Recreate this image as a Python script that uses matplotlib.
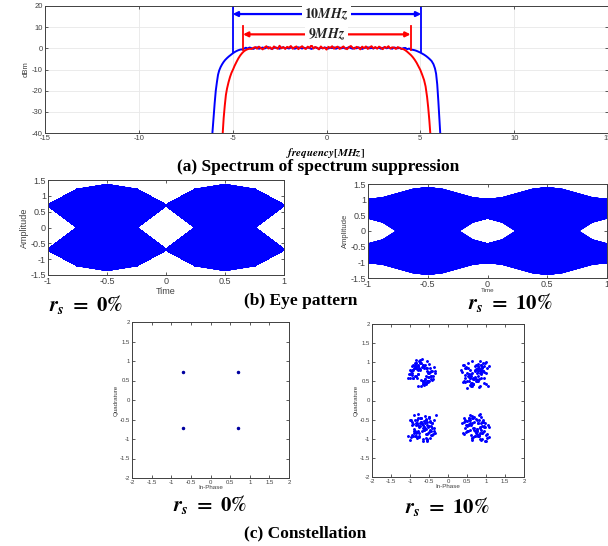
import numpy as np
import matplotlib
matplotlib.use('Agg')
import matplotlib.pyplot as plt
from matplotlib.ticker import FormatStrFormatter
from matplotlib.collections import LineCollection

plt.rcParams['font.family'] = ['Liberation Sans', 'DejaVu Sans']
plt.rcParams['mathtext.fontset'] = 'stix'

# ---------------- (a) spectrum ----------------
# roll-off edges (MHz, dBm)
blue_left_f = [-6.08, -6.02, -5.96, -5.9, -5.84, -5.78, -5.72, -5.64, -5.56, -5.48,
               -5.4, -5.3, -5.2, -5.1, -5.0, -4.9, -4.8, -4.7, -4.6]
blue_left_db = [-40, -33, -26, -20, -16, -12.5, -10.5, -8.8, -7.5, -6.4,
                -5.5, -4.6, -3.8, -3.1, -2.4, -1.8, -1.3, -0.9, -0.6]
blue_right_f = [4.6, 4.7, 4.8, 4.9, 5.0, 5.1, 5.2, 5.3, 5.4, 5.5, 5.6, 5.7,
                5.78, 5.84, 5.9, 5.96, 6.02, 6.06]
blue_right_db = [-0.7, -0.9, -1.2, -1.6, -2.0, -2.5, -3.0, -3.6, -4.3, -5.1, -6.0, -7.5,
                 -9.5, -12, -17, -25, -34, -40]
# flat part, -4.5 .. 4.5 MHz every 0.1 MHz
blue_mid = [-0.5, -0.2, 0.3, -0.1, 0.4, 0.1, -0.3, 0.2, 0.5, -0.2,
            0.1, 0.4, -0.1, 0.3, 0.6, 0.0, -0.3, 0.2, 0.4, 0.1,
            -0.2, 0.3, 0.5, 0.0, 0.2, -0.1, 0.4, 0.3, -0.2, 0.1,
            0.5, 0.2, -0.1, 0.3, 0.0, 0.4, 0.1, -0.3, 0.2, 0.5,
            0.1, -0.2, 0.3, 0.0, 0.4, 0.2, -0.1, 0.3, 0.1, 0.5,
            -0.2, 0.2, 0.4, 0.0, 0.3, -0.1, 0.2, 0.5, 0.1, -0.2,
            0.3, 0.0, 0.4, 0.2, -0.3, 0.1, 0.3, 0.5, 0.0, 0.2,
            -0.1, 0.4, 0.1, 0.3, -0.2, 0.2, 0.5, 0.0, 0.3, 0.1,
            -0.2, 0.4, 0.2, 0.0, 0.3, -0.3, 0.1, 0.2, -0.4, -0.1, -0.6]

red_left_f = [-5.53, -5.48, -5.42, -5.36, -5.3, -5.22, -5.14, -5.06, -4.98, -4.9,
              -4.8, -4.7, -4.6, -4.5, -4.4, -4.3, -4.2, -4.1]
red_left_db = [-40, -33, -27, -22, -19, -16, -13.5, -11.5, -10, -8.3,
               -6.5, -4.8, -3.4, -2.3, -1.4, -0.8, -0.4, -0.2]
red_right_f = [4.1, 4.2, 4.3, 4.4, 4.5, 4.6, 4.7, 4.8, 4.9, 5.0, 5.1, 5.2,
               5.28, 5.36, 5.42, 5.48, 5.53]
red_right_db = [-0.4, -0.9, -1.6, -2.4, -3.2, -4.2, -5.4, -6.8, -8.5, -10.2, -12.5, -15,
                -18, -23, -28, -34, -40]
# flat part, -4.0 .. 4.0 MHz every 0.1 MHz
red_mid = [-0.3, 0.2, 0.6, -0.2, 0.8, 0.1, -0.5, 0.4, 1.0, -0.1,
           0.5, -0.4, 0.9, 0.2, -0.2, 1.2, 0.0, 0.6, -0.3, 0.7,
           0.3, 1.1, -0.2, 0.5, 0.9, -0.4, 0.4, 1.0, 0.1, -0.3,
           0.8, 0.2, 1.5, -0.1, 0.6, 0.3, -0.5, 0.9, 0.0, 0.4,
           -0.6, 0.7, 0.2, 1.0, -0.2, 0.5, 0.8, -0.3, 0.3, 0.9,
           0.0, -0.4, 0.6, 1.1, 0.2, -0.2, 0.7, 0.4, -0.5, 0.8,
           0.1, 0.9, -0.3, 0.5, 1.0, 0.0, 0.6, -0.2, 0.8, 0.3,
           -0.4, 0.7, 0.2, 1.0, -0.1, 0.5, 0.3, -0.3, 0.6, 0.1,
           -0.2]

bw10_edges = [-5.0, 5.05]      # 10 MHz marker lines
bw9_edges = [-4.45, 4.48]      # 9 MHz marker lines

# ---------------- (b) eye patterns ----------------
# r_s = 0 %: one symbol period sampled at quarter points
eye0_sym = 0.7
eye0_peak = [0.5, 0.55, 0.6, 0.65, 0.7, 0.75, 0.8, 0.85, 0.9, 0.95,
             1.0, 1.05, 1.1, 1.15, 1.2, 1.25, 1.3, 1.35]
eye0_shoulder = [0.3, 0.36, 0.42, 0.48, 0.54, 0.6, 0.66, 0.72,
                 0.78, 0.84, 0.9, 0.96, 1.02, 1.08, 1.14, 1.2]
eye0_cross = [-0.7, -0.65, -0.6, -0.55, -0.5, -0.45, -0.4, -0.35, -0.3, -0.25,
              -0.2, -0.15, -0.1, -0.05, 0.0, 0.05, 0.1, 0.15, 0.2, 0.25,
              0.3, 0.35, 0.4, 0.45, 0.5, 0.55, 0.6, 0.65, 0.7]
eye0_lean = [0.0, 0.06, 0.12, 0.18, 0.25]

# r_s = 10 %: symbol levels, same-sign peaks, crossing values, transition shape
eye10_sym = [0.42, 0.48, 0.54, 0.6, 0.66, 0.72, 0.78, 0.85, 0.92, 1.0]
eye10_peak = [0.5, 0.56, 0.62, 0.68, 0.74, 0.8, 0.86, 0.92, 0.98,
              1.04, 1.1, 1.16, 1.22, 1.3, 1.38]
eye10_cross = [-0.45, -0.4, -0.35, -0.3, -0.25, -0.2, -0.15, -0.1, -0.05, 0.0,
               0.05, 0.1, 0.15, 0.2, 0.25, 0.3, 0.35, 0.4, 0.45]
eye10_shape = [0.0, 0.15, 0.5, 0.85, 1.0]

# ---------------- (c) constellations ----------------
qpsk_i = [-0.707, 0.707, -0.707, 0.707]
qpsk_q = [0.707, 0.707, -0.707, -0.707]
clu_i = [-0.7, 0.7, -0.68, 0.72]
clu_q = [0.72, 0.68, -0.72, -0.72]
noise_i = [0.06, -0.15, 0.23, -0.04, 0.29, -0.26, 0.11, -0.1, 0.18, -0.21,
           0.03, 0.35, -0.33, 0.14, -0.06, 0.09, -0.18, 0.25, -0.13, 0.0,
           0.17, -0.29, 0.05, 0.21, -0.09, 0.32, -0.24, 0.1, -0.03, 0.13,
           -0.16, 0.27, -0.36, 0.04, 0.2, -0.12, 0.08, -0.2, 0.16, -0.05,
           0.24, -0.26, 0.01, 0.12, -0.14, 0.31, -0.08, 0.18, -0.22, 0.07,
           -0.01, 0.14, -0.3, 0.22, -0.1, 0.03, 0.26, -0.17, 0.09, -0.25,
           0.13, -0.04, 0.2, -0.13, 0.37, -0.21, 0.05, -0.08, 0.16, -0.31,
           0.1, 0.0, -0.18, 0.25, -0.07, 0.17, -0.27, 0.08, -0.12, 0.21,
           -0.03, 0.3, -0.14, 0.04, -0.22, 0.12, 0.18, -0.09, 0.01, -0.16]
noise_q = [0.13, -0.07, 0.03, 0.26, -0.18, 0.09, -0.29, 0.17, -0.1, 0.21,
           -0.24, 0.05, -0.03, 0.31, 0.12, -0.16, 0.2, -0.08, 0.27, -0.35,
           0.01, -0.13, 0.22, -0.2, 0.08, 0.16, -0.05, -0.25, 0.34, -0.09,
           0.18, 0.04, -0.12, -0.3, 0.24, 0.1, -0.21, 0.14, 0.06, 0.29,
           -0.17, -0.01, 0.36, -0.26, 0.16, -0.08, 0.21, 0.03, -0.14, -0.31,
           0.25, -0.2, 0.09, 0.13, -0.04, -0.22, 0.05, 0.26, -0.16, 0.17,
           -0.27, 0.08, -0.1, 0.33, 0.0, -0.13, 0.2, -0.34, 0.12, -0.03,
           0.22, -0.18, 0.14, -0.07, 0.3, -0.24, 0.04, 0.18, -0.12, 0.01,
           0.1, -0.16, 0.25, -0.29, 0.07, 0.13, -0.21, -0.04, 0.16, -0.09]

AX_COL = '#404040'
BLUE = '#0000ff'


def matlab_style(ax, size, ticklen=2.5):
    for sp in ax.spines.values():
        sp.set_color(AX_COL)
        sp.set_linewidth(0.7)
    ax.tick_params(direction='in', top=True, right=True, length=ticklen, width=0.6,
                   labelsize=size, colors=AX_COL, pad=1.5)
    ax.xaxis.set_major_formatter(FormatStrFormatter('%g'))
    ax.yaxis.set_major_formatter(FormatStrFormatter('%g'))


W, H = 608, 546
fig = plt.figure(figsize=(W / 100, H / 100), dpi=100)


def px_axes(x0, y0, x1, y1):
    return fig.add_axes([x0 / W, 1 - y1 / H, (x1 - x0) / W, (y1 - y0) / H])


def px_text(x, y, s, **kw):
    fig.text(x / W, 1 - y / H, s, ha='center', va='center', **kw)


def draw_eye(ax, segs, lw):
    # each segment spans one symbol; draw it in both halves of the window
    n = len(segs[0])
    lines = []
    for t in (np.linspace(-1, 0, n), np.linspace(0, 1, n)):
        lines += [np.column_stack([t, s]) for s in segs]
    ax.add_collection(LineCollection(lines, colors=BLUE, linewidths=lw))
    ax.set_xlim(-1, 1)
    ax.set_ylim(-1.5, 1.5)
    ax.set_xticks([-1, -0.5, 0, 0.5, 1])
    ax.set_yticks(np.arange(-1.5, 1.6, 0.5))


# ---- spectrum ----
ax = px_axes(45, 6, 608, 133)
mid_b = np.round(np.arange(-4.5, 4.55, 0.1), 2)
mid_r = np.round(np.arange(-4.0, 4.05, 0.1), 2)
ax.plot(blue_left_f + list(mid_b) + blue_right_f, blue_left_db + blue_mid + blue_right_db,
        color=BLUE, lw=1.4)
ax.plot(red_left_f + list(mid_r) + red_right_f, red_left_db + red_mid + red_right_db,
        color='#ff0000', lw=1.4)
for f in bw10_edges:
    ax.plot([f, f], [-1.8, 20], color=BLUE, lw=1.3)
for f in bw9_edges:
    ax.plot([f, f], [-0.8, 10.5], color='#ff0000', lw=1.3)
ax.annotate('', xy=(bw10_edges[1], 16.2), xytext=(bw10_edges[0], 16.2),
            arrowprops=dict(arrowstyle='<|-|>', color=BLUE, lw=1.6, mutation_scale=7,
                            shrinkA=0, shrinkB=0))
ax.annotate('', xy=(bw9_edges[1], 6.6), xytext=(bw9_edges[0], 6.6),
            arrowprops=dict(arrowstyle='<|-|>', color='#ff0000', lw=1.6, mutation_scale=7,
                            shrinkA=0, shrinkB=0))
ax.text(0, 16.2, r'$\mathbf{10}\mathbfit{MHz}$', ha='center', va='center', fontsize=10,
        color='#222222', bbox=dict(facecolor='white', edgecolor='none', pad=2))
ax.text(0, 6.6, r'$\mathbf{9}\mathbfit{MHz}$', ha='center', va='center', fontsize=10,
        color='#222222', bbox=dict(facecolor='white', edgecolor='none', pad=2))
ax.set_xlim(-15, 15)
ax.set_ylim(-40, 20)
ax.set_xticks(range(-15, 16, 5))
ax.set_yticks(range(-40, 21, 10))
ax.grid(True, color='#e8e8e8', lw=0.6)
ax.set_axisbelow(True)
matlab_style(ax, 5.5, 2)
ax.set_ylabel('dBm', fontsize=5.5, color=AX_COL, labelpad=2)

px_text(326, 153, r'$\mathbfit{frequency}\mathbf{[}\mathbfit{MHz}\mathbf{]}$', fontsize=8)
px_text(318, 167, '(a) Spectrum of spectrum suppression', fontsize=12.5,
        family='Liberation Serif', weight='bold')

# ---- eye pattern r_s = 0% ----
segs0 = []
for s in (1, -1):
    for sh1 in eye0_shoulder:
        for v in eye0_peak:
            for sh2 in eye0_shoulder:
                segs0.append([s * eye0_sym, s * sh1, s * v, s * sh2, s * eye0_sym])
    for q1 in eye0_lean:
        for c in eye0_cross:
            for q2 in eye0_lean:
                segs0.append([s * eye0_sym, s * q1, c, -s * q2, -s * eye0_sym])
ax = px_axes(48, 180, 284, 275)
draw_eye(ax, segs0, 1.0)
matlab_style(ax, 6.5, 2.5)
ax.set_xlabel('Time', fontsize=6.5, color=AX_COL, labelpad=0.5)
ax.set_ylabel('Amplitude', fontsize=6.5, color=AX_COL, labelpad=1)

# ---- eye pattern r_s = 10% ----


def shaped(a, b):
    return [a + (b - a) * p for p in eye10_shape]


segs10 = []
for s_a in (1, -1):
    for s_b in (1, -1):
        mids = [s_a * h for h in eye10_peak] if s_a == s_b else eye10_cross
        for a in eye10_sym:
            for h in mids:
                for b in eye10_sym:
                    segs10.append(shaped(s_a * a, h) + shaped(h, s_b * b)[1:])
ax = px_axes(368, 184, 607, 278)
draw_eye(ax, segs10, 1.0)
matlab_style(ax, 6.5, 2.5)
ax.set_xlabel('Time', fontsize=4.5, color=AX_COL, labelpad=-1)
ax.set_ylabel('Amplitude', fontsize=5.5, color=AX_COL, labelpad=1)

rs0 = r'$\mathbfit{r_s}\ \mathbf{=\ 0\%}$'
rs10 = r'$\mathbfit{r_s}\ \mathbf{=\ 10\%}$'
px_text(86, 304, rs0, fontsize=15)
px_text(301, 301, '(b) Eye pattern', fontsize=12.5, family='Liberation Serif', weight='bold')
px_text(510, 303, rs10, fontsize=15)

# ---- constellations ----
for box, ii, qq in [((132, 322, 289, 478), qpsk_i, qpsk_q), ((372, 324, 524, 477), None, None)]:
    ax = px_axes(*box)
    if ii is not None:
        ax.plot(ii, qq, '.', color='#0000a0', ms=3)
    else:
        for k in range(4):
            ni = np.roll(noise_i, 23 * k)
            nq = np.roll(noise_q, 41 * k)
            ax.plot(clu_i[k] + ni, clu_q[k] + nq, '.', color=BLUE, ms=2.2)
    ax.set_xlim(-2, 2)
    ax.set_ylim(-2, 2)
    ax.set_xticks(np.arange(-2, 2.1, 0.5))
    ax.set_yticks(np.arange(-2, 2.1, 0.5))
    matlab_style(ax, 4.3, 2)
    ax.set_xlabel('In-Phase', fontsize=4.5, color=AX_COL, labelpad=0)
    ax.set_ylabel('Quadrature', fontsize=4.5, color=AX_COL, labelpad=1)

px_text(210, 505, rs0, fontsize=15)
px_text(447, 506, rs10, fontsize=15)
px_text(305, 533, '(c) Constellation', fontsize=12.5, family='Liberation Serif', weight='bold')

fig.savefig('out.png', dpi=100)
